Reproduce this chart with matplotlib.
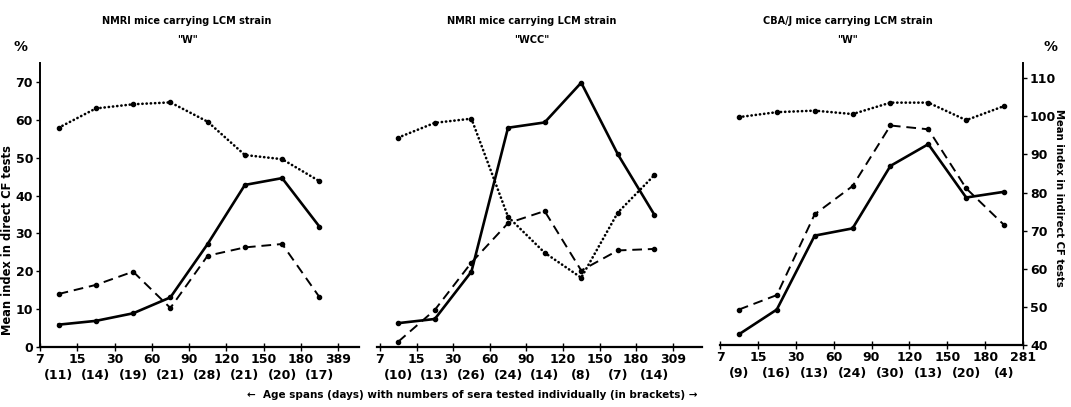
import matplotlib
matplotlib.use('Agg')
import matplotlib.pyplot as plt
import numpy as np

plt.rcParams['font.family'] = ['Liberation Sans Narrow', 'DejaVu Sans']
plt.rcParams['font.weight'] = 'bold'

W, H = 1071, 407

days1 = ['7', '15', '30', '60', '90', '120', '150', '180', '389']
days2 = ['7', '15', '30', '60', '90', '120', '150', '180', '309']
days3 = ['7', '15', '30', '60', '90', '120', '150', '180', '281']
n1 = [11, 14, 19, 21, 28, 21, 20, 17]
n2 = [10, 13, 26, 24, 14, 8, 7, 14]
n3 = [9, 16, 13, 24, 30, 13, 20, 4]

solid1 = [5.9, 6.9, 8.9, 13.1, 27.2, 42.8, 44.6, 31.8]
dashed1 = [14.0, 16.4, 19.9, 10.3, 24.1, 26.3, 27.2, 13.2]
dotted1 = [57.9, 63.0, 64.1, 64.6, 59.5, 50.7, 49.6, 43.8]

solid2 = [6.3, 7.4, 19.9, 57.9, 59.3, 69.8, 50.9, 34.9]
dashed2 = [1.4, 9.8, 22.3, 32.7, 35.9, 20.2, 25.5, 25.9]
dotted2 = [55.3, 59.2, 60.3, 34.4, 24.9, 18.3, 35.5, 45.4]

solid3 = [42.8, 49.3, 68.7, 70.6, 87.0, 92.7, 78.7, 80.2]
dashed3 = [49.3, 53.1, 74.3, 81.7, 97.6, 96.6, 81.1, 71.5]
dotted3 = [99.8, 101.1, 101.5, 100.6, 103.6, 103.6, 99.0, 102.7]

titles = ['NMRI mice carrying LCM strain', 'NMRI mice carrying LCM strain', 'CBA/J mice carrying LCM strain']
subtitles = ['"W"', '"WCC"', '"W"']

fig = plt.figure(figsize=(W / 100, H / 100), dpi=100)

def px_axes(x0, x1, ytop, ybot):
    return fig.add_axes([x0 / W, 1 - ybot / H, (x1 - x0) / W, (ybot - ytop) / H])

# pixel boxes of the three panels, and their x limits
ax1 = px_axes(40, 358.5, 63, 347)
ax2 = px_axes(377, 702, 63, 347)
ax3 = px_axes(720, 1023, 63, 345)
axes = [ax1, ax2, ax3]
xlims = [(0, 8.55), (-0.08, 8.8), (0, 8)]
days = [days1, days2, days3]
ns = [n1, n2, n3]
series = [(solid1, dashed1, dotted1), (solid2, dashed2, dotted2), (solid3, dashed3, dotted3)]

for ax, xl, d, n, (s, da, do) in zip(axes, xlims, days, ns, series):
    x = np.arange(len(s)) + 0.5
    ax.plot(x, s, color='black', lw=1.9, marker='o', ms=3)
    ax.plot(x, da, color='black', lw=1.4, dashes=(5, 3), marker='o', ms=3)
    ax.plot(x, do, color='black', lw=1.9, linestyle=(0, (0.1, 1.5)),
            dash_capstyle='round', marker='o', ms=3)
    ax.set_xlim(*xl)
    ax.set_xticks(np.arange(len(d)))
    ax.set_xticklabels(d, fontsize=9, fontweight='bold')
    ax.set_xticks(x, minor=True)
    ax.set_xticklabels(['(%d)' % v for v in n], minor=True, fontsize=9, fontweight='bold')
    ax.tick_params(axis='x', which='major', direction='inout', length=6, width=1, pad=1)
    ax.tick_params(axis='x', which='minor', length=0, pad=16)
    ax.spines['top'].set_visible(False)
    ax.spines['bottom'].set_linewidth(1.6)
    for sp in ['left', 'right']:
        ax.spines[sp].set_visible(False)

ax1.set_ylim(0, 75)
ax1.spines['left'].set_visible(True)
ax1.spines['left'].set_linewidth(1.4)
ax1.set_yticks(range(0, 80, 10))
ax1.set_yticklabels([str(v) for v in range(0, 80, 10)], fontsize=9, fontweight='bold')
ax1.tick_params(axis='y', direction='out', length=3, width=1, pad=2)

ax2.set_ylim(0, 75)
ax2.set_yticks([])

ax3.set_ylim(40, 114)
ax3.spines['right'].set_visible(True)
ax3.spines['right'].set_linewidth(1.4)
ax3.yaxis.tick_right()
ax3.set_yticks(range(40, 120, 10))
ax3.set_yticklabels([str(v) for v in range(40, 120, 10)], fontsize=9, fontweight='bold')
ax3.tick_params(axis='y', direction='out', length=3, width=1, pad=2)

for cx, t, st in zip([187, 532, 848], titles, subtitles):
    fig.text(cx / W, 1 - 21 / H, t, ha='center', va='center', fontsize=7, fontweight='bold')
    fig.text(cx / W, 1 - 40 / H, st, ha='center', va='center', fontsize=7, fontweight='bold')

fig.text(20 / W, 1 - 47 / H, '%', ha='center', va='center', fontsize=10, fontweight='bold')
fig.text(1051 / W, 1 - 47 / H, '%', ha='center', va='center', fontsize=10, fontweight='bold')
fig.text(8 / W, 1 - 240 / H, 'Mean index in direct CF tests', rotation=90,
         ha='center', va='center', fontsize=8.3, fontweight='bold')
fig.text(1059 / W, 1 - 198 / H, 'Mean index in indirect CF tests', rotation=-90,
         ha='center', va='center', fontsize=7.3, fontweight='bold')
fig.text(472 / W, 1 - 395 / H,
         '\u2190  Age spans (days) with numbers of sera tested individually (in brackets) \u2192',
         ha='center', va='center', fontsize=7.5, fontweight='bold')

fig.savefig('out.png', dpi=100)
